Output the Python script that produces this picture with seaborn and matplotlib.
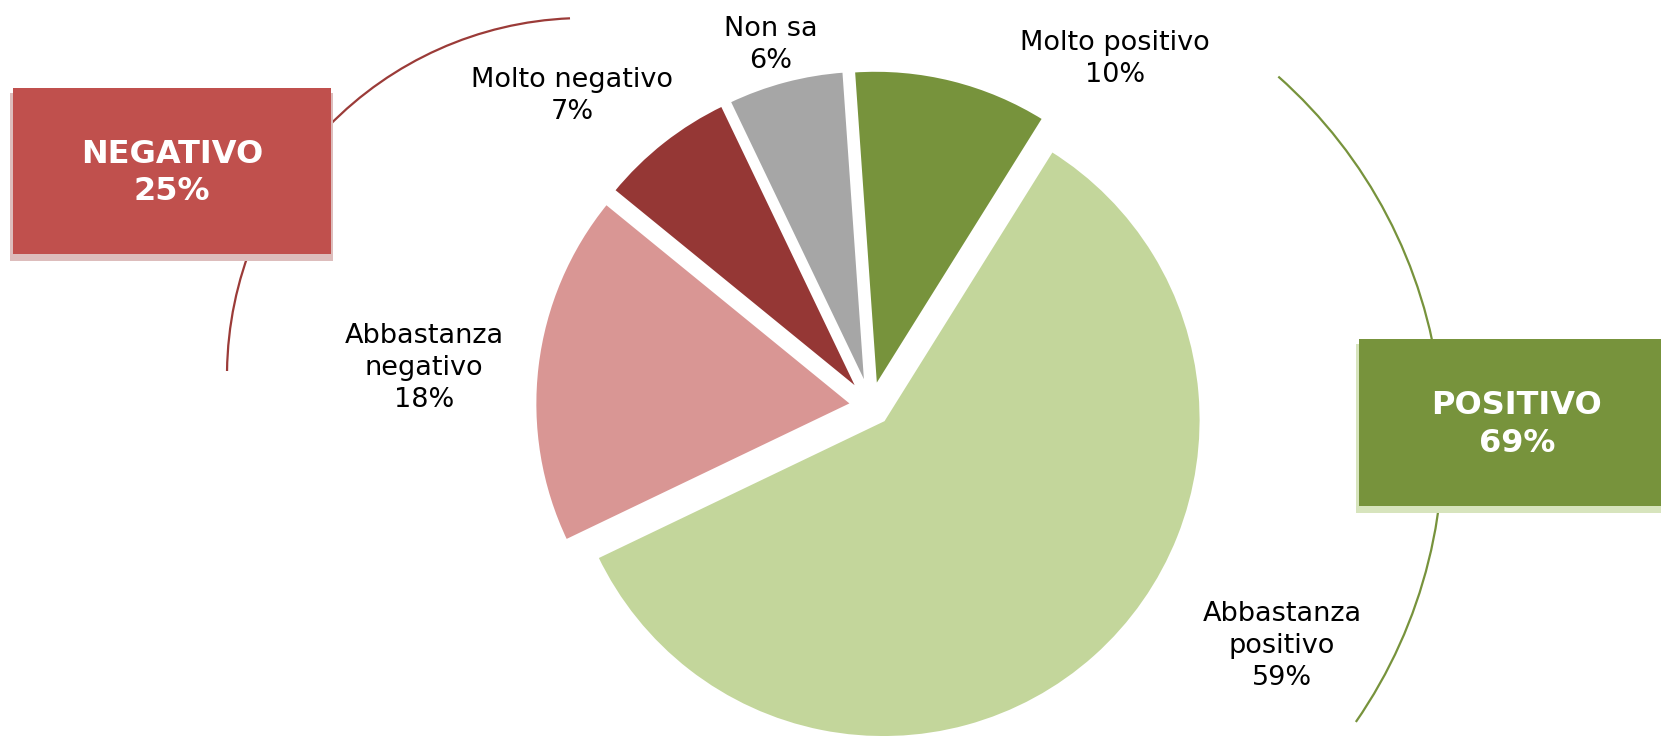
import matplotlib
matplotlib.use("Agg")
import matplotlib.pyplot as plt
import matplotlib.patches as mpatches
import seaborn as sns

# ---- data ----
categories = ["Molto positivo", "Abbastanza positivo", "Abbastanza negativo", "Molto negativo", "Non sa"]
label_lines = ["Molto positivo", "Abbastanza\npositivo", "Abbastanza\nnegativo", "Molto negativo", "Non sa"]
values = [10, 59, 18, 7, 6]
colors = ["#77933C", "#C3D69B", "#D99694", "#953735", "#A6A6A6"]
group_names = ["NEGATIVO", "POSITIVO"]
group_values = [25, 69]
group_colors = ["#C0504D", "#77933C"]
group_shadow = ["#DDBDBC", "#D7E4BD"]
arc_colors = ["#9B3B38", "#77933C"]

sns.set_theme(style="white")
plt.rcParams["font.family"] = ["DejaVu Sans"]

W, H = 1661, 736
fig = plt.figure(figsize=(W / 100, H / 100), dpi=100)
ax = fig.add_axes([0, 0, 1, 1])

# pie
cx, cy, R = 871, 330, 318
expl = 18.5
ax.pie(values, colors=colors, startangle=94, counterclock=False,
       explode=[expl] * len(values), center=(cx, cy), radius=R,
       wedgeprops=dict(edgecolor="white", linewidth=2.5))

# connecting arcs (drawn first; boxes cover them)
ax.add_patch(mpatches.Arc((585, 360), 2 * 358, 2 * 358, theta1=92.4, theta2=179.2,
                          color=arc_colors[0], lw=1.6, zorder=2))
ax.add_patch(mpatches.Arc((953, 293), 2 * 490, 2 * 490, theta1=-34.7, theta2=48.4,
                          color=arc_colors[1], lw=1.6, zorder=2))

# group boxes
boxes = [(13, 482, 318, 166), (1359, 230, 310, 167)]
for (bx, by, bw, bh), name, val, col, sh in zip(boxes, group_names, group_values, group_colors, group_shadow):
    ax.add_patch(mpatches.Rectangle((bx - 3, by - 7), bw + 5, bh + 2, facecolor=sh,
                                    edgecolor="none", zorder=4))
    ax.add_patch(mpatches.Rectangle((bx, by), bw, bh, facecolor=col,
                                    edgecolor="none", zorder=5))
    tx = bx + bw / 2 if name == "NEGATIVO" else 1517
    ax.text(tx, by + bh / 2 - 2, f"{name}\n{val}%", ha="center", va="center",
            color="white", fontsize=23, fontweight="bold", linespacing=1.25, zorder=6)

# slice labels
label_pos = [(1115, 677), (1282, 90), (424, 368), (572, 640), (771, 691)]
for (lx, ly), txt, v in zip(label_pos, label_lines, values):
    ax.text(lx, ly, f"{txt}\n{v}%", ha="center", va="center", color="black",
            fontsize=19.5, linespacing=1.3, zorder=6)

ax.set_xlim(0, W)
ax.set_ylim(0, H)
ax.set_aspect("equal")
ax.axis("off")
fig.savefig("out.png", dpi=100, facecolor="white")
